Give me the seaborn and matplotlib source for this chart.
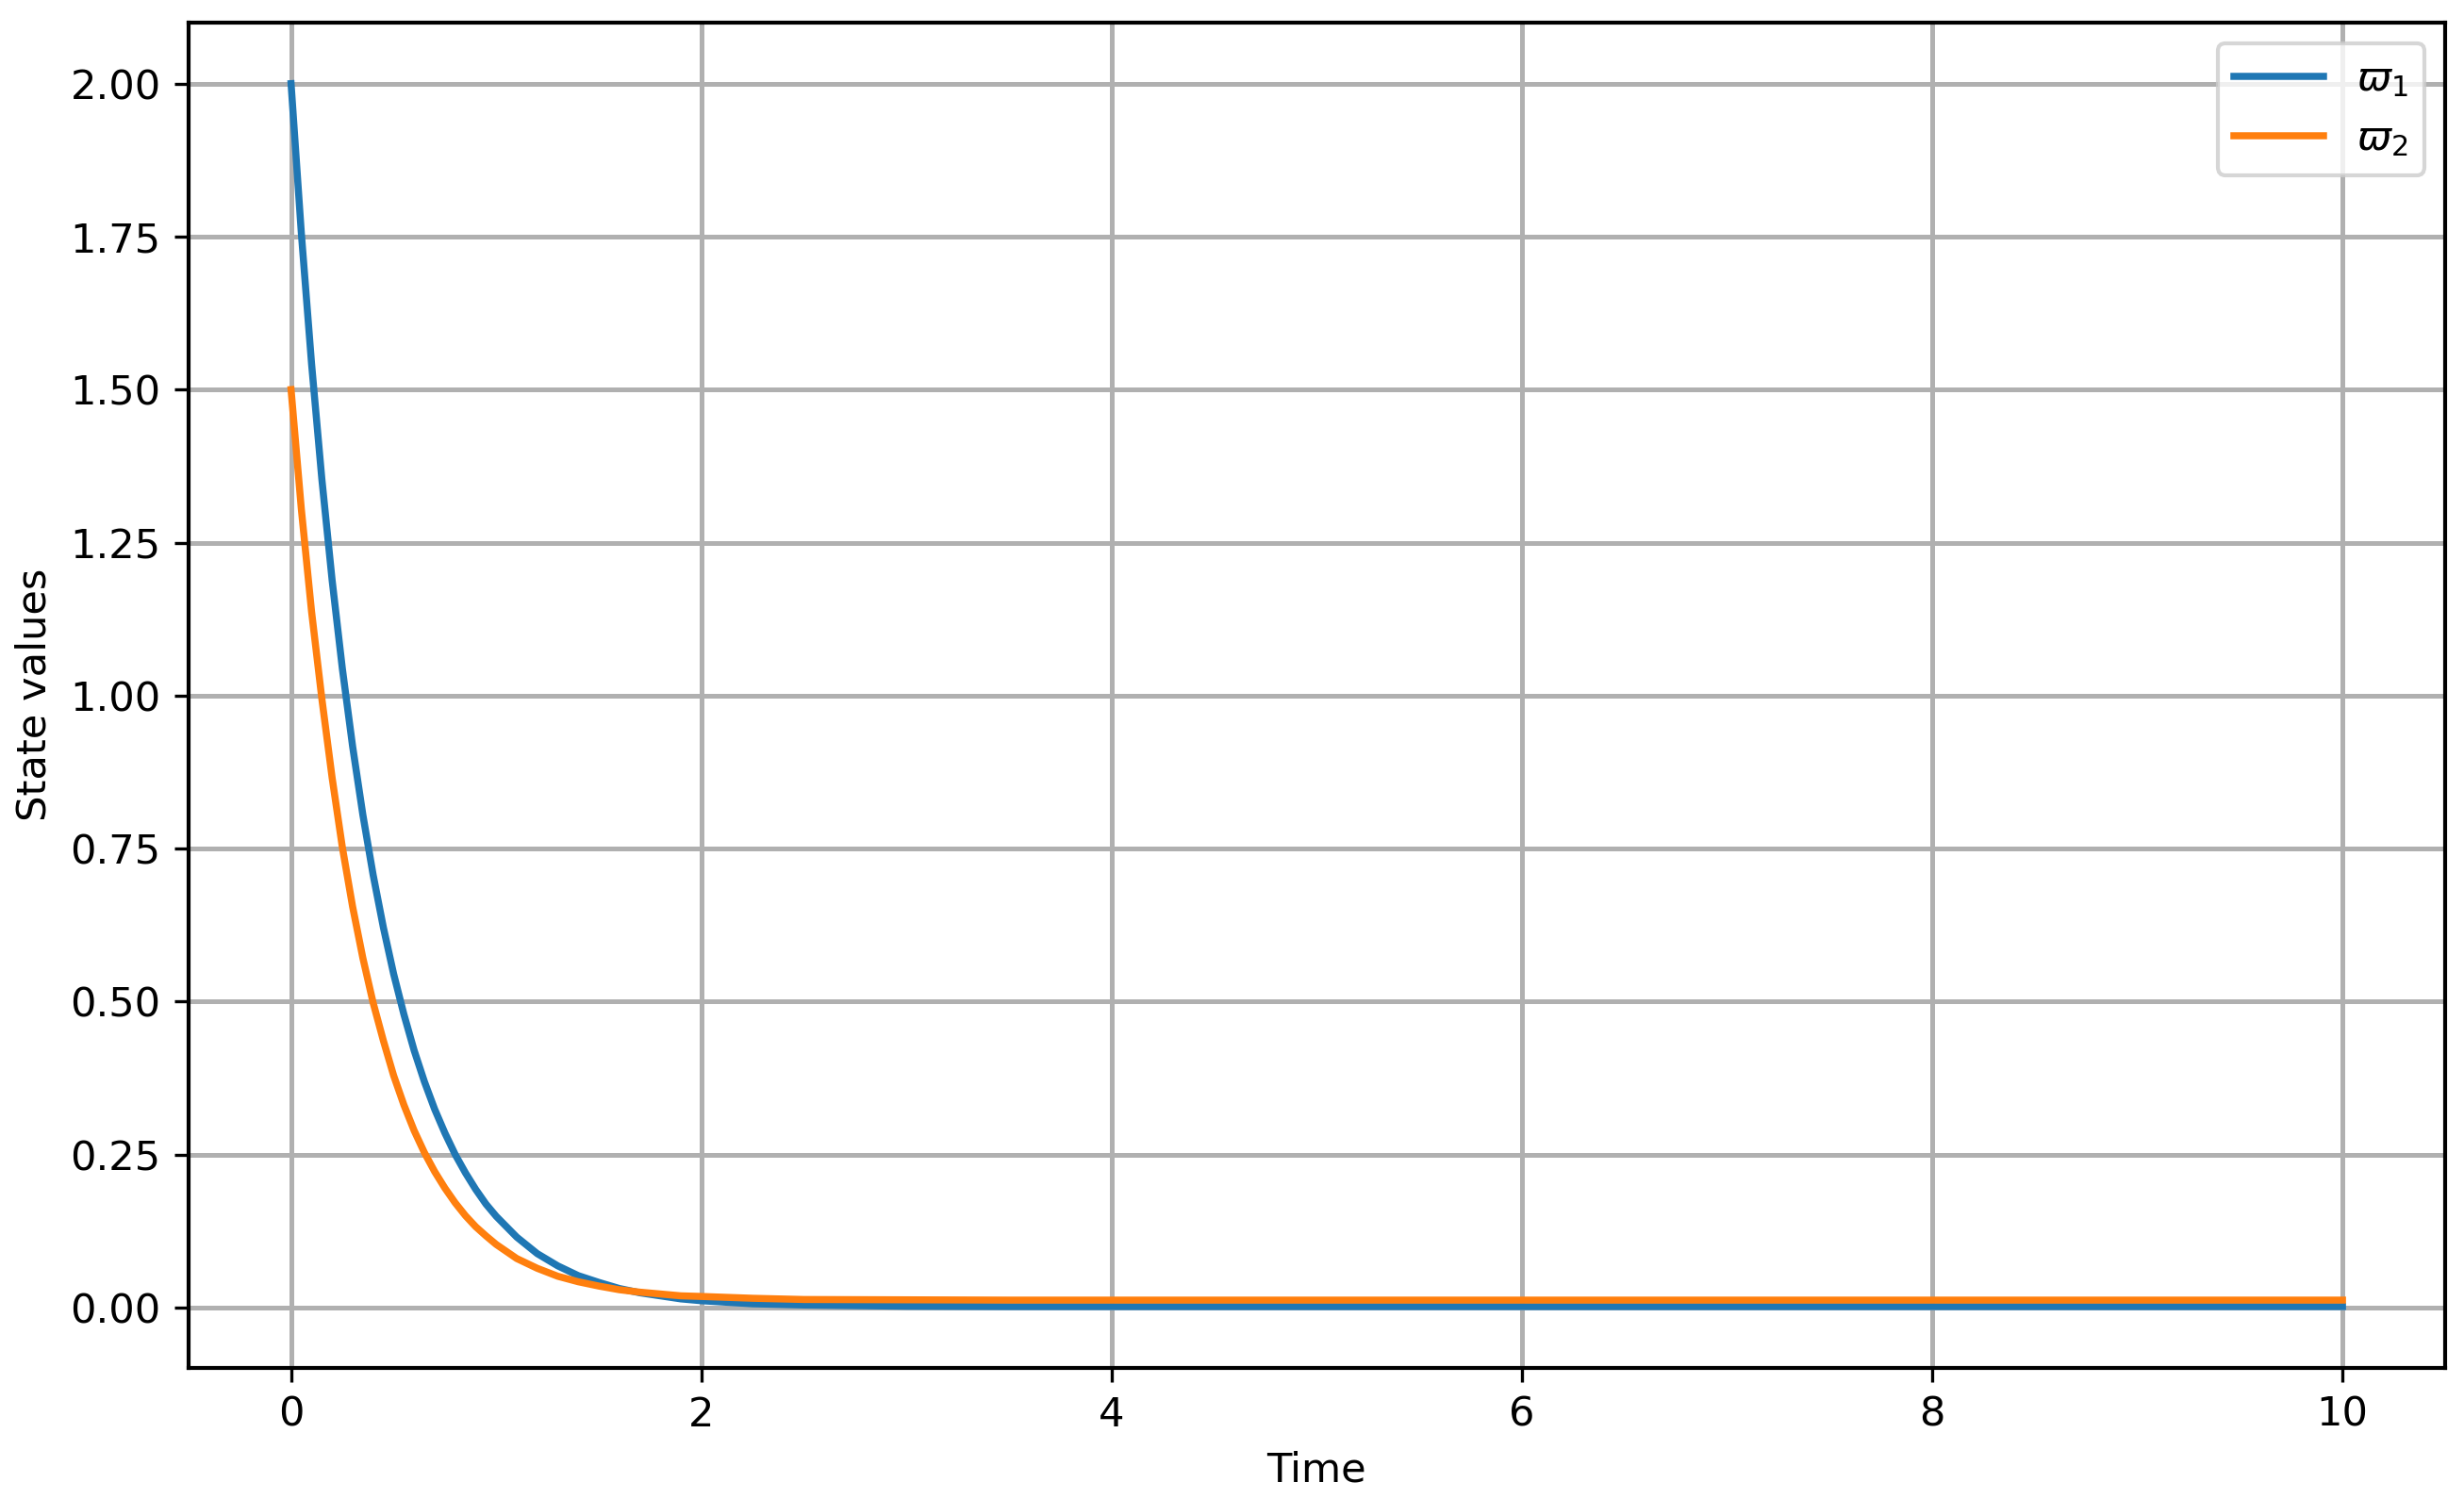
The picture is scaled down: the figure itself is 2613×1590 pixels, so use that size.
import matplotlib
matplotlib.use("Agg")
import matplotlib.pyplot as plt
import pandas as pd
import seaborn as sns

# time samples
time = [0.0, 0.05, 0.10, 0.15, 0.20, 0.25, 0.30, 0.35, 0.40, 0.45, 0.50,
        0.55, 0.60, 0.65, 0.70, 0.75, 0.80, 0.85, 0.90, 0.95, 1.00,
        1.1, 1.2, 1.3, 1.4, 1.5, 1.6, 1.7, 1.8, 1.9, 2.0,
        2.25, 2.5, 3.0, 3.5, 4.0, 5.0, 6.0, 7.0, 8.0, 9.0, 10.0]

varpi_1 = [2.000, 1.756, 1.542, 1.354, 1.189, 1.044, 0.917, 0.805, 0.707, 0.621, 0.545,
           0.479, 0.420, 0.369, 0.324, 0.285, 0.250, 0.220, 0.193, 0.169, 0.149,
           0.115, 0.088, 0.068, 0.052, 0.041, 0.031, 0.024, 0.019, 0.014, 0.011,
           0.006, 0.004, 0.002, 0.0015, 0.0015, 0.0015, 0.0015, 0.0015, 0.0015, 0.0015, 0.0015]

varpi_2 = [1.500, 1.305, 1.137, 0.995, 0.866, 0.752, 0.655, 0.571, 0.498, 0.436, 0.379,
           0.331, 0.289, 0.253, 0.222, 0.195, 0.171, 0.150, 0.132, 0.117, 0.103,
           0.080, 0.064, 0.051, 0.042, 0.035, 0.029, 0.025, 0.022, 0.019, 0.018,
           0.015, 0.013, 0.0125, 0.012, 0.012, 0.012, 0.012, 0.012, 0.012, 0.012, 0.012]

labels = [r'$\varpi_1$', r'$\varpi_2$']
colors = ['#1f77b4', '#ff7f0e']

df = pd.DataFrame({'Time': time, 'w1': varpi_1, 'w2': varpi_2})

plt.rcParams['font.size'] = 10.4

fig, ax = plt.subplots(figsize=(2613 / 300, 1590 / 300), dpi=300)
fig.subplots_adjust(left=0.0765, right=0.9923, bottom=0.0876, top=0.985)

for col, lab, c in zip(['w1', 'w2'], labels, colors):
    sns.lineplot(data=df, x='Time', y=col, label=lab, color=c, linewidth=1.8, ax=ax)

ax.set_xlabel('Time')
ax.set_ylabel('State values')
ax.set_xticks([0, 2, 4, 6, 8, 10])
ax.grid(True, color='#b0b0b0', linewidth=1.2)
ax.legend(loc='upper right', handlelength=2.2)
for s in ax.spines.values():
    s.set_linewidth(1.0)

fig.savefig('out.png', dpi=300)
